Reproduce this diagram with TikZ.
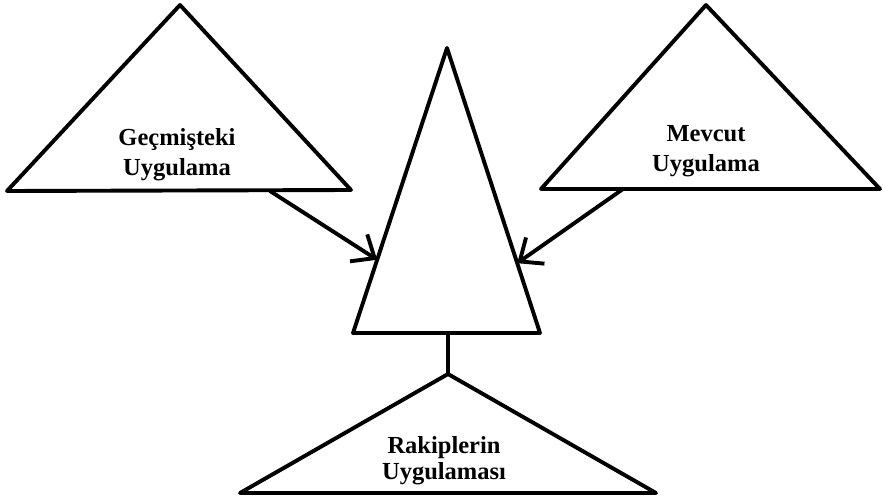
\documentclass[tikz,border=0pt]{standalone}
\usepackage{fontspec}
\setmainfont{Liberation Serif}
\usetikzlibrary{arrows.meta,calc}
\begin{document}
\begin{tikzpicture}[x=1pt,y=-1pt, line join=round, line cap=round,
  tri/.style={draw, line width=3.9pt},
  lbl/.style={font=\bfseries\fontsize{24.5}{30}\selectfont, align=center, inner sep=0pt},
  conn/.style={draw, line width=3.9pt, -{Straight Barb[length=19pt,width=32pt,line width=3.9pt]}}]
\useasboundingbox (0,0) rectangle (883,503);
% left triangle
\coordinate (La) at (180,5);
\coordinate (Lb) at (7,191);
\coordinate (Lc) at (351,190);
% center triangle
\coordinate (Ca) at (447,48);
\coordinate (Cb) at (353,333);
\coordinate (Cc) at (540,333);
% right triangle
\coordinate (Ra) at (706,5);
\coordinate (Rb) at (541,189);
\coordinate (Rc) at (880,189);
% bottom triangle
\coordinate (Ba) at (448,374);
\coordinate (Bb) at (240,493);
\coordinate (Bc) at (656,493);
\draw[tri] (La) -- (Lb) -- (Lc) -- cycle;
\draw[tri] (Ca) -- (Cb) -- (Cc) -- cycle;
\draw[tri] (Ra) -- (Rb) -- (Rc) -- cycle;
\draw[tri] (Ba) -- (Bb) -- (Bc) -- cycle;
% connector points
\coordinate (Ls) at (270,191);
\coordinate (Lt) at ($(Ca)!0.743!(Cb)$);
\coordinate (Rs) at (623,189);
\coordinate (Rt) at ($(Ca)!0.755!(Cc)$);
\coordinate (Cm) at (448,333);
\draw[conn] (Ls) -- (Lt);
\draw[conn] (Rs) -- (Rt);
\draw[tri] (Cm) -- (Ba);
% labels
\node[lbl] (tL) at (177,155) {Geçmişteki\\Uygulama};
\node[lbl] (tR) at (706,151) {Mevcut\\Uygulama};
\node[lbl, font=\bfseries\fontsize{24.5}{26}\selectfont] (tB) at (444,461) {Rakiplerin\\Uygulaması};
\end{tikzpicture}
\end{document}
